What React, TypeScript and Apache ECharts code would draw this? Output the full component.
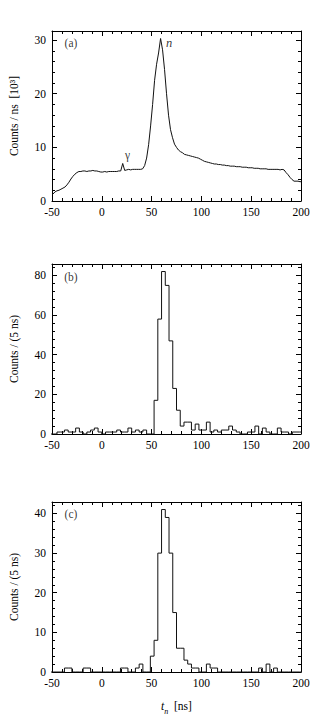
import { useEffect, useRef } from 'react';
import * as echarts from 'echarts';

// ---------- data ----------
const X_MIN = -50;
const X_MAX = 200;
const X_INTERVAL = 50;

// Panel (a): counts per ns [10^3], 2-ns bins starting at -50
const binStartA = -50;
const binWidthA = 2;
const countsA = [
  1.3, 1.7, 1.9, 2.0, 2.2, 2.4, 2.6, 3.0, 3.5, 4.1,
  4.6, 5.0, 5.3, 5.5, 5.5, 5.6, 5.6, 5.5, 5.6, 5.6,
  5.7, 5.6, 5.6, 5.5, 5.4, 5.4, 5.5, 5.4, 5.5, 5.5,
  5.5, 5.5, 5.5, 5.6, 5.6, 7.0, 5.7, 5.8, 5.9, 5.8,
  5.9, 5.9, 5.9, 5.9, 5.9, 6.0, 6.6, 8.0, 10.5, 14.0,
  18.0, 22.5, 25.5, 27.6, 30.3, 28.2, 24.5, 20.0, 16.0, 13.3,
  11.8, 10.6, 10.0, 9.5, 9.2, 9.0, 8.7, 8.6, 8.5, 8.4,
  8.3, 8.2, 8.1, 8.0, 7.8, 7.6, 7.4, 7.3, 7.2, 7.1,
  7.0, 6.9, 6.9, 6.8, 6.8, 6.7, 6.7, 6.6, 6.6, 6.5,
  6.5, 6.5, 6.4, 6.4, 6.4, 6.3, 6.3, 6.3, 6.2, 6.2,
  6.2, 6.1, 6.1, 6.1, 6.0, 6.0, 6.0, 6.0, 5.9, 5.9,
  5.9, 5.9, 5.9, 5.9, 5.8, 5.9, 5.8, 5.3, 4.9, 4.4,
  4.0, 3.7, 3.7, 3.7, 3.6,
];

// Panels (b), (c): counts per bin, bins starting at -52.5
const binStartBC = -52.5;
const binWidthBC = 3.75;
const countsB = [
  0, 0, 1, 1, 2, 1, 1, 3, 1, 0,
  1, 2, 3, 1, 0, 1, 1, 1, 2, 1,
  1, 3, 1, 2, 1, 2, 0, 0, 17, 58,
  82, 75, 47, 23, 12, 4, 6, 6, 2, 5,
  2, 2, 6, 1, 2, 1, 2, 2, 4, 2,
  1, 0, 0, 1, 1, 4, 0, 3, 1, 0,
  0, 3, 1, 1, 0, 1, 1, 1,
];
const countsC = [
  0, 0, 0, 0, 1, 1, 0, 0, 0, 1,
  1, 0, 0, 0, 0, 0, 0, 0, 0, 1,
  1, 0, 0, 1, 2, 0, 0, 4, 8, 30,
  41, 39, 30, 15, 6, 6, 3, 2, 1, 1,
  0, 0, 2, 1, 1, 0, 0, 0, 0, 0,
  0, 0, 0, 0, 0, 0, 1, 0, 2, 0,
  1, 0, 0, 0, 0, 0, 0, 0,
];

const yMaxes = [31.7, 85.8, 42.9];
const yIntervals = [10, 20, 10];
const yNames = ['Counts / ns  [10³]', 'Counts / (5 ns)', 'Counts / (5 ns)'];

// annotations: [x, y, text] in data units of each panel
const annotationsA: [number, number, string][] = [
  [-31, 29.5, '(a)'],
  [67.7, 29.5, 'n'],
  [25.8, 8.6, 'γ'],
];
const annotationsB: [number, number, string][] = [[-31, 79.3, '(b)']];
const annotationsC: [number, number, string][] = [[-31, 39.9, '(c)']];

// ---------- helpers ----------
const FONT = "'Liberation Serif', 'Times New Roman', 'DejaVu Serif', serif";

function steps(start: number, width: number, counts: number[]) {
  const pts = counts.map((c, i) => [start + i * width, c]);
  pts.push([start + counts.length * width, counts[counts.length - 1]]);
  return pts;
}

function centers(start: number, width: number, counts: number[]) {
  const pts = counts.map((c, i) => [start + (i + 0.5) * width, c]);
  pts.unshift([start, counts[0]]);
  pts.push([start + counts.length * width, counts[counts.length - 1]]);
  return pts;
}

const GRID_TOPS = [31, 264, 502];
const GRID_H = 170;

export default function App() {
  const ref = useRef<HTMLDivElement>(null);

  useEffect(() => {
    document.body.style.margin = '0';
    if (!ref.current) return;
    const chart = echarts.init(ref.current, undefined, { renderer: 'svg' });

    const lineStyle = { color: '#000', width: 1 };
    const baseAxis = {
      type: 'value' as const,
      axisLine: { show: true, onZero: false, lineStyle },
      axisTick: { show: true, inside: true, length: 5, lineStyle },
      minorTick: { show: true, splitNumber: 5, length: 3, lineStyle },
      splitLine: { show: false },
      minorSplitLine: { show: false },
    };
    const labelStyle = { color: '#000', fontFamily: FONT, fontSize: 11.5 };

    const grids: any[] = [];
    const xAxes: any[] = [];
    const yAxes: any[] = [];
    for (let i = 0; i < 3; i++) {
      grids.push({ left: 50, right: 35, top: GRID_TOPS[i], height: GRID_H });
      xAxes.push({
        ...baseAxis,
        gridIndex: i,
        position: 'bottom',
        min: X_MIN,
        max: X_MAX,
        interval: X_INTERVAL,
        axisLabel: { ...labelStyle, margin: 5 },
        ...(i === 2
          ? {
              name: '{it|t}{sub|n}{n|  [ns]}',
              nameLocation: 'middle',
              nameGap: 26,
              nameTextStyle: {
                rich: {
                  it: { fontFamily: FONT, fontSize: 11.5, fontStyle: 'italic', color: '#000', lineHeight: 14, verticalAlign: 'bottom' },
                  sub: { fontFamily: FONT, fontSize: 8, fontStyle: 'italic', color: '#000', lineHeight: 14, verticalAlign: 'bottom', padding: [0, 0, -3, 0] },
                  n: { fontFamily: FONT, fontSize: 11.5, color: '#000', lineHeight: 14, verticalAlign: 'bottom' },
                },
              },
            }
          : {}),
      });
      xAxes.push({
        ...baseAxis,
        gridIndex: i,
        position: 'top',
        min: X_MIN,
        max: X_MAX,
        interval: X_INTERVAL,
        axisLabel: { show: false },
      });
      yAxes.push({
        ...baseAxis,
        gridIndex: i,
        position: 'left',
        min: 0,
        max: yMaxes[i],
        interval: yIntervals[i],
        axisLabel: { ...labelStyle, margin: 6, showMaxLabel: false },
        name: yNames[i],
        nameLocation: 'middle',
        nameGap: 32,
        nameTextStyle: { ...labelStyle },
      });
      yAxes.push({
        ...baseAxis,
        gridIndex: i,
        position: 'right',
        min: 0,
        max: yMaxes[i],
        interval: yIntervals[i],
        axisLabel: { show: false },
      });
    }

    const histSeries = (i: number, data: number[][], step: any) => ({
      type: 'line',
      xAxisIndex: i * 2,
      yAxisIndex: i * 2,
      data,
      step,
      symbol: 'none',
      showSymbol: false,
      clip: true,
      lineStyle: { color: '#111', width: 1 },
      silent: true,
      z: 2,
    });

    const annSeries = (i: number, anns: [number, number, string][]) => ({
      type: 'scatter',
      xAxisIndex: i * 2,
      yAxisIndex: i * 2,
      symbolSize: 1,
      itemStyle: { color: 'rgba(255,255,255,0)' },
      silent: true,
      z: 5,
      data: anns.map(([x, y, t]) => ({
        value: [x, y],
        label: {
          show: true,
          position: 'inside',
          formatter: t,
          fontFamily: FONT,
          fontSize: t === 'n' ? 12.5 : 11.5,
          fontStyle: t === 'n' ? 'italic' : 'normal',
          color: '#000',
        },
      })),
    });

    chart.setOption({
      animation: false,
      backgroundColor: '#fff',
      grid: grids,
      xAxis: xAxes,
      yAxis: yAxes,
      series: [
        histSeries(0, centers(binStartA, binWidthA, countsA), false),
        histSeries(1, steps(binStartBC, binWidthBC, countsB), 'end'),
        histSeries(2, steps(binStartBC, binWidthBC, countsC), 'end'),
        annSeries(0, annotationsA),
        annSeries(1, annotationsB),
        annSeries(2, annotationsC),
      ],
    });

    return () => chart.dispose();
  }, []);

  return <div ref={ref} style={{ width: 336, height: 716 }} />;
}
